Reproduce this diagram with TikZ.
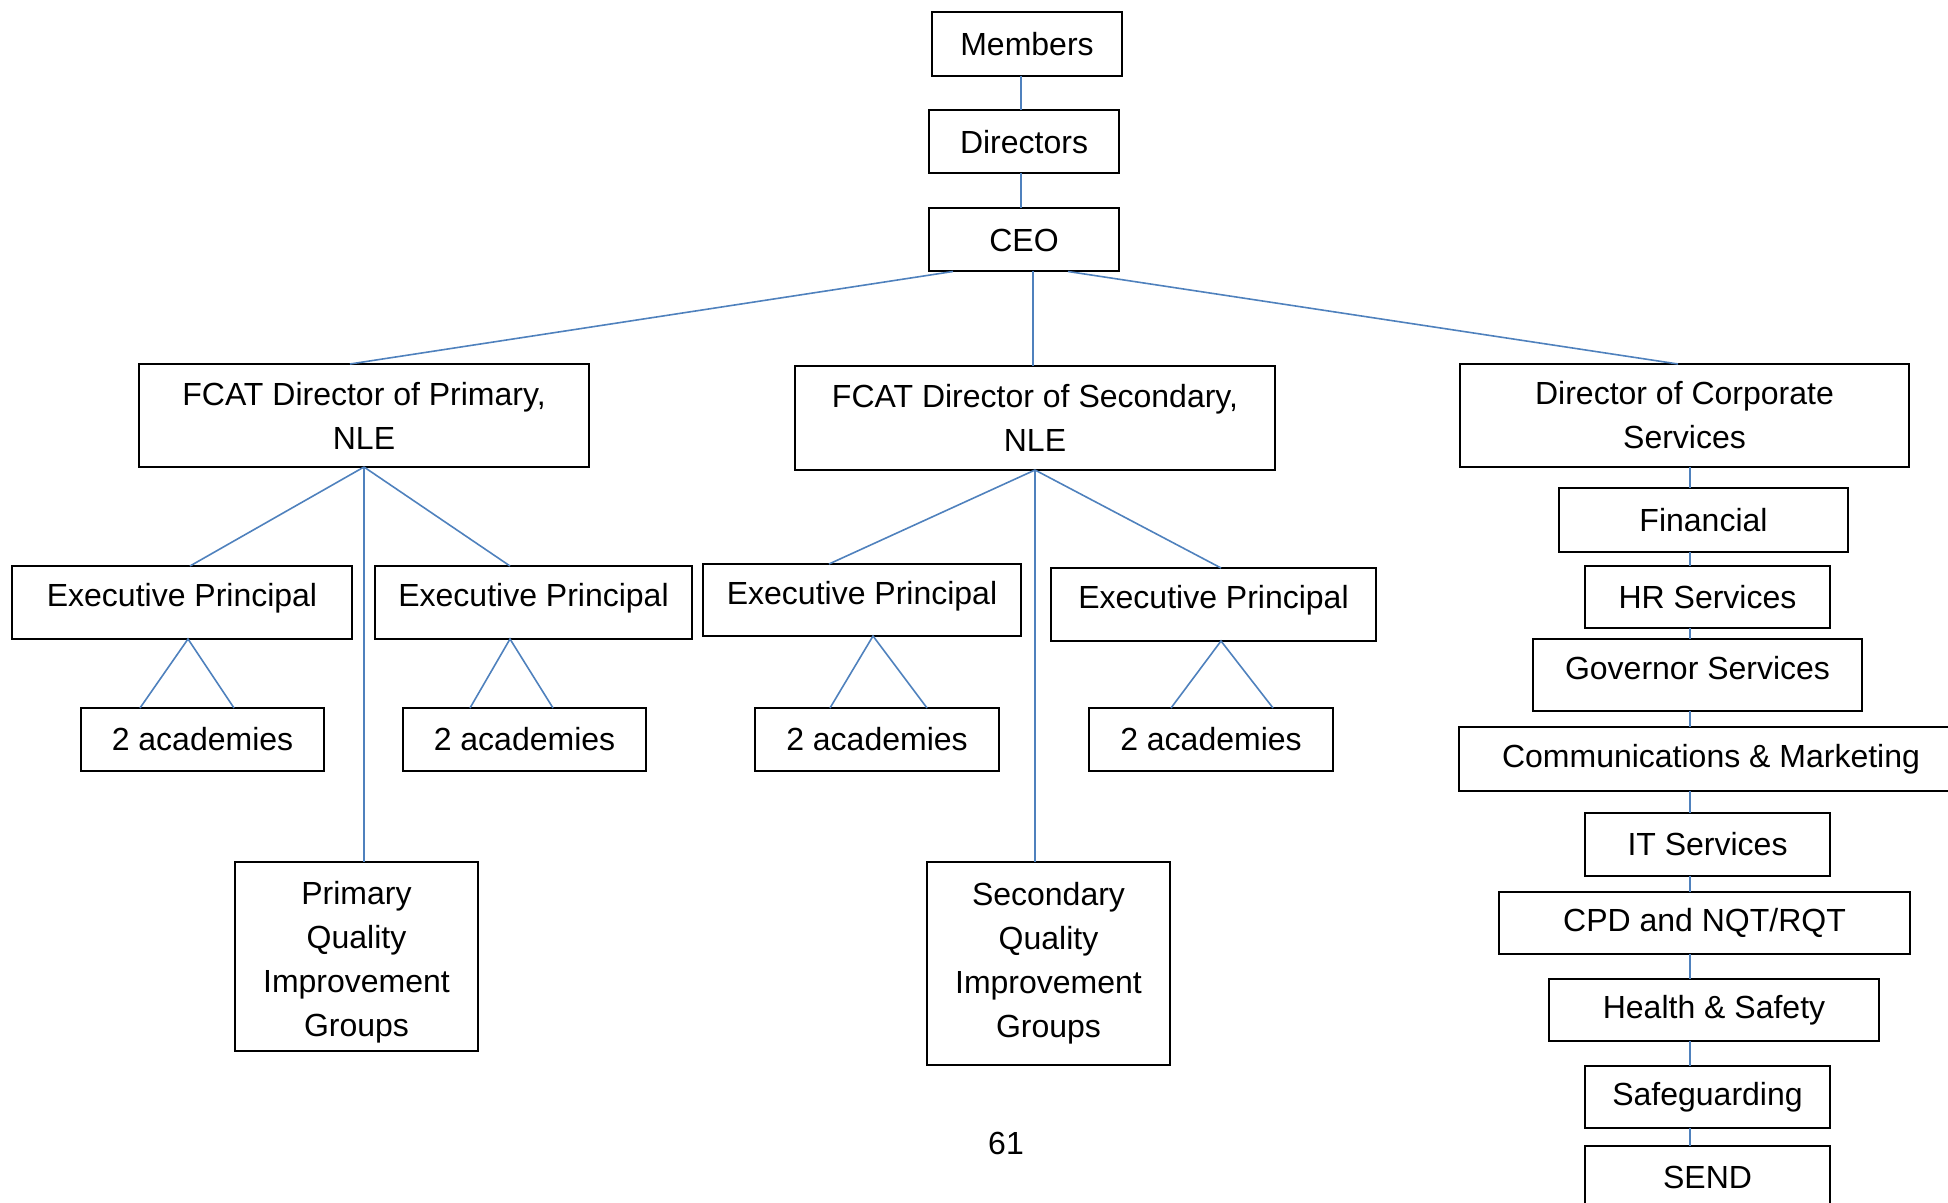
\documentclass[tikz,border=0pt]{standalone}
\usepackage{fontspec}
\setmainfont{Liberation Sans}
\usetikzlibrary{calc}
\definecolor{linkblue}{RGB}{79,129,189}
\tikzset{
  unit/.style={draw=black, line width=1pt, inner sep=0pt, outer sep=0pt, align=center, font=\fontsize{16}{22}\selectfont},
  lowtext/.style={text height=11.7pt, text depth=7.5pt},
  link/.style={draw=linkblue, line width=0.8pt}
}

\begin{document}
\begin{tikzpicture}[x=0.5pt, y=-0.5pt]
  \useasboundingbox (0,0) rectangle (1948,1203);
  \clip (0,0) rectangle (1948,1203);

  \node[unit, minimum width=95pt, minimum height=32pt] (mem) at (1027,44) {Members};
  \node[unit, minimum width=95pt, minimum height=31.5pt] (dir) at (1024,142) {Directors};
  \node[unit, minimum width=95pt, minimum height=31.5pt] (ceo) at (1024,240) {CEO};

  \node[unit, minimum width=225pt, minimum height=51.5pt] (prim) at (364,415.5) {FCAT Director of Primary,\\NLE};
  \node[unit, minimum width=240pt, minimum height=52pt] (sec) at (1035,418) {FCAT Director of Secondary,\\NLE};
  \node[unit, minimum width=224.5pt, minimum height=51.5pt] (dcs) at (1684.5,415.5) {Director of Corporate\\Services};

  \node[unit, lowtext, minimum width=170pt, minimum height=36.5pt] (ep1) at (182,602.5) {Executive Principal};
  \node[unit, lowtext, minimum width=158.5pt, minimum height=36.5pt] (ep2) at (533.5,602.5) {Executive Principal};
  \node[unit, lowtext, minimum width=159pt, minimum height=36pt] (ep3) at (862,600) {Executive Principal};
  \node[unit, lowtext, minimum width=162.5pt, minimum height=36.5pt] (ep4) at (1213.5,604.5) {Executive Principal};

  \node[unit, minimum width=121.5pt, minimum height=31.5pt] (aca1) at (202.5,739.5) {2 academies};
  \node[unit, minimum width=121.5pt, minimum height=31.5pt] (aca2) at (524.5,739.5) {2 academies};
  \node[unit, minimum width=122pt, minimum height=31.5pt] (aca3) at (877,739.5) {2 academies};
  \node[unit, minimum width=122pt, minimum height=31.5pt] (aca4) at (1211,739.5) {2 academies};

  \node[unit, minimum width=121.5pt, minimum height=94.5pt] (pqig) at (356.5,956.5) {\rule{0pt}{17.7pt}Primary\\Quality\\Improvement\\Groups};
  \node[unit, minimum width=121.5pt, minimum height=101.5pt] (sqig) at (1048.5,963.5) {Secondary\\Quality\\Improvement\\Groups};

  \node[unit, minimum width=144.5pt, minimum height=32pt] (fin) at (1703.5,520) {Financial};
  \node[unit, minimum width=122.5pt, minimum height=31pt] (hr) at (1707.5,597) {HR Services};
  \node[unit, lowtext, minimum width=164.5pt, minimum height=36pt] (gov) at (1697.5,675) {Governor Services};
  \node[unit, minimum width=252pt, minimum height=32pt] (com) at (1711,759) {Communications \& Marketing};
  \node[unit, minimum width=122.5pt, minimum height=31.5pt] (it) at (1707.5,844.5) {IT Services};
  \node[unit, minimum width=205.5pt, minimum height=31pt] (cpd) at (1704.5,923) {CPD and NQT/RQT};
  \node[unit, minimum width=165pt, minimum height=31pt] (hs) at (1714,1010) {Health \& Safety};
  \node[unit, minimum width=122.5pt, minimum height=31pt] (safe) at (1707.5,1097) {Safeguarding};
  \node[unit, minimum width=122.5pt, minimum height=31.5pt] (send) at (1707.5,1177.5) {SEND};

  \node[font=\fontsize{16}{22}\selectfont, inner sep=0pt] (page) at (1006,1143) {61};

  \coordinate (trunk) at (1021,0);
  \coordinate (spine) at (1690,0);

  \draw[link] (mem.south -| trunk) -- (dir.north -| trunk);
  \draw[link] (dir.south -| trunk) -- (ceo.north -| trunk);

  \draw[link] ($(ceo.south)+(-71,0)$) -- ($(prim.north)+(-14,0)$);
  \draw[link] ($(ceo.south)+(9,0)$) -- ($(sec.north)+(-2,0)$);
  \draw[link] ($(ceo.south)+(44,0)$) -- ($(dcs.north)+(-6.5,0)$);

  \draw[link] (prim.south) -- ($(ep1.north)+(8,0)$);
  \draw[link] (prim.south) -- ($(ep2.north)+(-23.5,0)$);
  \draw[link] (prim.south) -- ($(pqig.north)+(7.5,0)$);
  \draw[link] ($(aca1.north)+(-62.5,0)$) -- ($(ep1.south)+(6,0)$) -- ($(aca1.north)+(31.5,0)$);
  \draw[link] ($(aca2.north)+(-54.5,0)$) -- ($(ep2.south)+(-23.5,0)$) -- ($(aca2.north)+(28.5,0)$);

  \draw[link] (sec.south) -- ($(ep3.north)+(-33,0)$);
  \draw[link] (sec.south) -- ($(ep4.north)+(7.5,0)$);
  \draw[link] (sec.south) -- ($(sqig.north)+(-13.5,0)$);
  \draw[link] ($(aca3.north)+(-47,0)$) -- ($(ep3.south)+(11,0)$) -- ($(aca3.north)+(50,0)$);
  \draw[link] ($(aca4.north)+(-40,0)$) -- ($(ep4.south)+(7.5,0)$) -- ($(aca4.north)+(62,0)$);

  \foreach \a/\b in {dcs/fin, fin/hr, hr/gov, gov/com, com/it, it/cpd, cpd/hs, hs/safe, safe/send}
    \draw[link] (\a.south -| spine) -- (\b.north -| spine);
\end{tikzpicture}
\end{document}
